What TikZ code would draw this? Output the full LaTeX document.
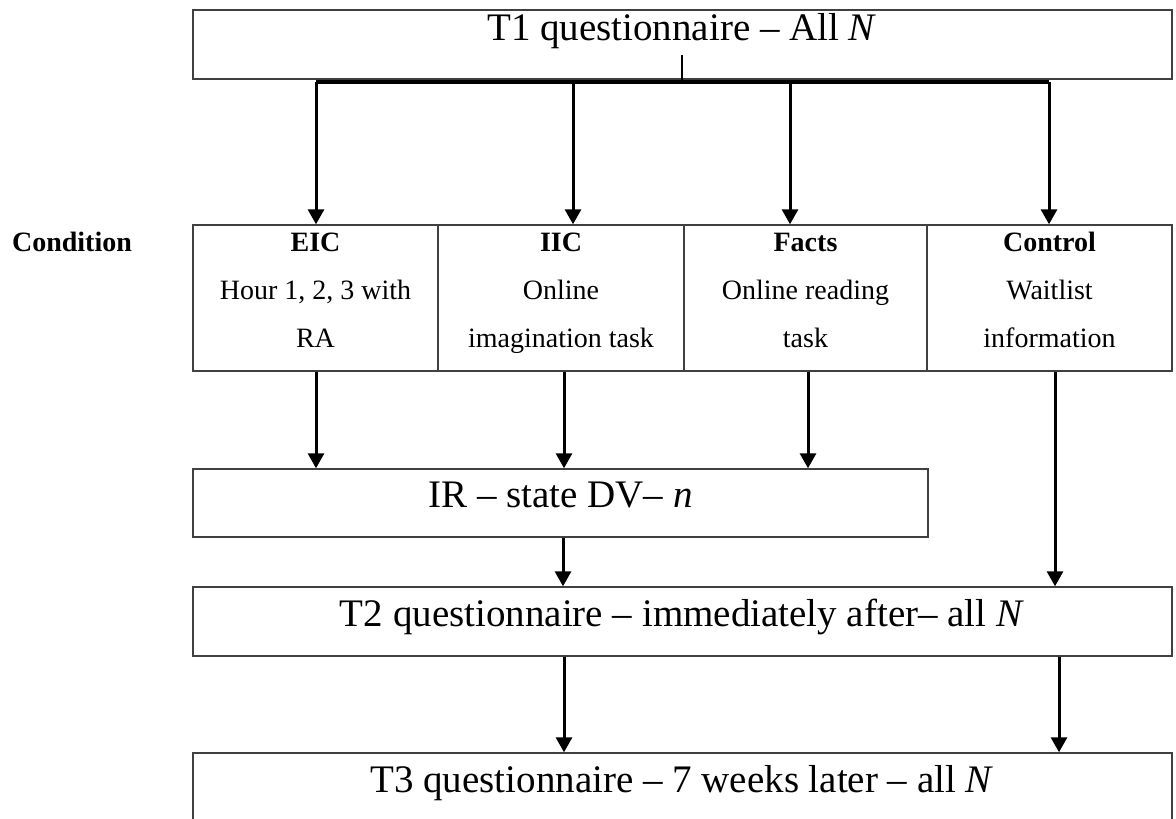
\documentclass[tikz,border=0pt]{standalone}
\usepackage{fontspec}
\setmainfont{Liberation Serif}
\usetikzlibrary{arrows.meta,fit}
\begin{document}
\begin{tikzpicture}[x=0.5pt,y=-0.5pt,
  box/.style={draw=black!75, line width=0.7pt, inner sep=0pt},
  big/.style={font=\fontsize{19.5}{23}\selectfont, anchor=base, inner sep=0pt},
  small/.style={font=\fontsize{14}{17}\selectfont, anchor=base, inner sep=0pt},
  flow/.style={line width=1.5pt, -{Triangle[width=8pt,length=7.5pt]}},
  trunk/.style={line width=2pt},
]
\useasboundingbox (0,0) rectangle (1176,818);
\fill[white] (0,0) rectangle (1176,818);

% boxes
\node[box, fit={(193,10) (1172,79)}] (t1) {};
\node[box, fit={(193,225) (438,371)}] (eic) {};
\node[box, fit={(438,225) (684,371)}] (iic) {};
\node[box, fit={(684,225) (927,371)}] (facts) {};
\node[box, fit={(927,225) (1172,371)}] (ctl) {};
\node[box, fit={(193,469) (928,537)}] (ir) {};
\node[box, fit={(193,587) (1172,656)}] (t2) {};
\node[box, fit={(193,753) (1172,870)}] (t3) {};

% box texts
\node[big] (t1txt) at (682,41) {T1 questionnaire – All \textit{N}};
\node[big] (irtxt) at (560.5,507) {IR – state DV– \textit{n}};
\node[big] (t2txt) at (682,626) {T2 questionnaire – immediately after– all \textit{N}};
\node[big] (t3txt) at (682,792) {T3 questionnaire – 7 weeks later – all \textit{N}};

\node[small] (condlbl) at (72,251) {\textbf{Condition}};

\node[small] (eic1) at (315.5,251) {\textbf{EIC}};
\node[small] (eic2) at (315.5,299) {Hour 1, 2, 3 with};
\node[small] (eic3) at (315.5,347) {RA};
\node[small] (iic1) at (561,251) {\textbf{IIC}};
\node[small] (iic2) at (561,299) {Online};
\node[small] (iic3) at (561,347) {imagination task};
\node[small] (fac1) at (805.5,251) {\textbf{Facts}};
\node[small] (fac2) at (805.5,299) {Online reading};
\node[small] (fac3) at (805.5,347) {task};
\node[small] (ctl1) at (1049.5,251) {\textbf{Control}};
\node[small] (ctl2) at (1049.5,299) {Waitlist};
\node[small] (ctl3) at (1049.5,347) {information};

% branching from T1
\coordinate (stemtop) at (682,55);
\coordinate (hub) at (682,82);
\coordinate (b1) at (316,82);
\coordinate (b2) at (573,82);
\coordinate (b3) at (790,82);
\coordinate (b4) at (1049,82);
\draw[line width=1pt] (stemtop) -- (hub);
\draw[trunk] (b1) -- (b4);
\draw[flow] (b1) -- (b1 |- eic.north);
\draw[flow] (b2) -- (b2 |- iic.north);
\draw[flow] (b3) -- (b3 |- facts.north);
\draw[flow] (b4) -- (b4 |- ctl.north);

% columns of the lower arrows
\coordinate (xa) at (316,0);
\coordinate (xb) at (564,0);
\coordinate (xc) at (808,0);
\coordinate (xd) at (1055,0);
\coordinate (xe) at (563,0);
\coordinate (xf) at (564,0);
\coordinate (xg) at (1059,0);

\draw[flow] (eic.south -| xa) -- (ir.north -| xa);
\draw[flow] (iic.south -| xb) -- (ir.north -| xb);
\draw[flow] (facts.south -| xc) -- (ir.north -| xc);
\draw[flow] (ctl.south -| xd) -- (t2.north -| xd);
\draw[flow] (ir.south -| xe) -- (t2.north -| xe);
\draw[flow] (t2.south -| xf) -- (t3.north -| xf);
\draw[flow] (t2.south -| xg) -- (t3.north -| xg);
\end{tikzpicture}
\end{document}
